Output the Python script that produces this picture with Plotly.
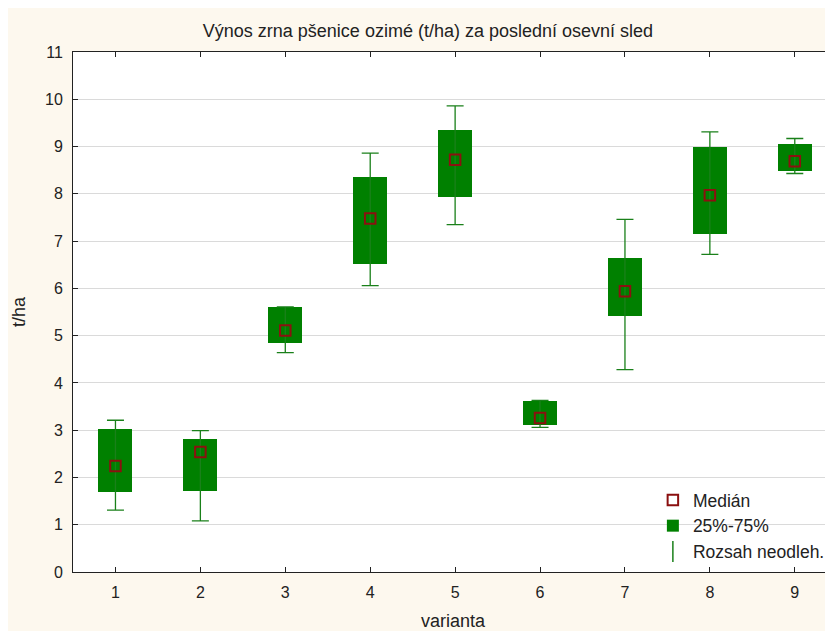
import plotly.graph_objects as go

categories = [1, 2, 3, 4, 5, 6, 7, 8, 9]
q1 = [1.69, 1.72, 4.84, 6.51, 7.93, 3.11, 5.41, 7.16, 8.49]
q3 = [3.02, 2.82, 5.61, 8.35, 9.36, 3.61, 6.65, 9.00, 9.05]
median = [2.24, 2.54, 5.11, 7.48, 8.72, 3.26, 5.94, 7.97, 8.69]
whisk_lo = [1.31, 1.08, 4.64, 6.06, 7.35, 3.06, 4.28, 6.72, 8.43]
whisk_hi = [3.21, 2.99, 5.61, 8.86, 9.86, 3.63, 7.46, 9.31, 9.17]
y_ticks = list(range(0, 12))

title_text = "Výnos zrna pšenice ozimé (t/ha) za poslední osevní sled"
x_title = "varianta"
y_title = "t/ha"
legend_median = "Medián"
legend_box = "25%-75%"
legend_range = "Rozsah neodleh."

GREEN = "#008000"
WHISK = "#1a801a"
RED = "#8b1010"
CREAM = "#fdf8ee"
FONT = "Liberation Sans, Arial, sans-serif"
TXT = "#222222"

fig = go.Figure()

fig.add_trace(go.Bar(
    x=categories,
    y=[b - a for a, b in zip(q1, q3)],
    base=q1,
    width=0.4,
    marker=dict(color=GREEN, line=dict(width=0)),
    name=legend_box,
    legendrank=2,
    hoverinfo="skip",
))

fig.add_trace(go.Scatter(
    x=categories,
    y=median,
    mode="markers",
    marker=dict(symbol="square-open", size=10.5, color=RED, line=dict(width=2, color=RED)),
    error_y=dict(
        type="data",
        symmetric=False,
        array=[h - m for h, m in zip(whisk_hi, median)],
        arrayminus=[m - l for m, l in zip(median, whisk_lo)],
        color=WHISK,
        thickness=1.3,
        width=8.5,
    ),
    name=legend_median,
    legendrank=1,
))

fig.add_trace(go.Scatter(
    x=[None],
    y=[None],
    mode="markers",
    marker=dict(symbol="line-ns-open", size=15, color=WHISK, line=dict(width=1.5, color=WHISK)),
    name=legend_range,
    legendrank=3,
))

fig.update_layout(
    width=825,
    height=623,
    margin=dict(l=65, r=0, t=44, b=59),
    paper_bgcolor=CREAM,
    plot_bgcolor="white",
    font=dict(family=FONT, size=16, color=TXT),
    title=dict(text=title_text, x=0.509, xanchor="center", y=0.963, yanchor="middle",
               font=dict(family=FONT, size=18, color=TXT)),
    showlegend=True,
    legend=dict(
        x=0.763, xanchor="left", y=0.173, yanchor="top",
        bgcolor="rgba(0,0,0,0)", font=dict(family=FONT, size=17.5, color=TXT),
        tracegroupgap=0, itemwidth=30,
    ),
    bargap=0,
)

fig.update_xaxes(
    range=[0.5, 9.45],
    tickmode="array",
    tickvals=categories,
    ticktext=[str(c) for c in categories],
    ticks="inside",
    ticklen=5,
    tickcolor="#222222",
    showline=True,
    linecolor="#222222",
    linewidth=1,
    mirror="ticks",
    showgrid=False,
    zeroline=False,
    ticklabelstandoff=6,
    title=dict(text=x_title, standoff=14, font=dict(family=FONT, size=18, color=TXT)),
    automargin=False,
)

fig.update_yaxes(
    range=[0, 11],
    tickmode="array",
    tickvals=y_ticks,
    ticks="inside",
    ticklen=5,
    tickcolor="#222222",
    showline=True,
    linecolor="#222222",
    linewidth=1,
    showgrid=True,
    gridcolor="#dadada",
    gridwidth=1,
    zeroline=False,
    ticklabelstandoff=6,
    title=dict(text=y_title, standoff=14, font=dict(family=FONT, size=18, color=TXT)),
    automargin=False,
)

fig.write_html("out.html")
